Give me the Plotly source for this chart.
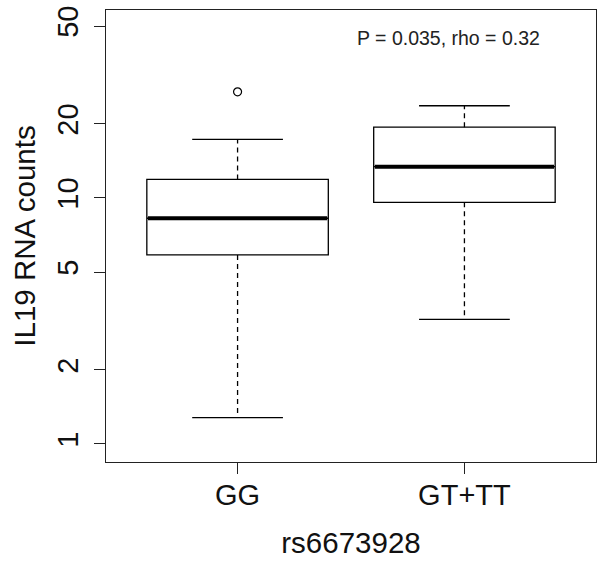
import plotly.graph_objects as go
import math

categories = ["GG", "GT+TT"]
cat_pos = [1, 2]
q1 = [5.87, 9.6]
median = [8.27, 13.4]
q3 = [11.9, 19.4]
lower_whisker = [1.28, 3.21]
upper_whisker = [17.3, 23.7]
outlier_cat_index = [0]
outlier_values = [27.0]
y_ticks = [1, 2, 5, 10, 20, 50]
annotation_text = "P = 0.035, rho = 0.32"

FONT = "Liberation Sans, Arial, sans-serif"
BOX_W = 0.8
CAP_W = 0.4

fig = go.Figure()

fig.add_trace(go.Box(
    x=cat_pos, q1=q1, median=median, q3=q3,
    lowerfence=q1, upperfence=q3,
    width=BOX_W, whiskerwidth=0,
    line=dict(color="black", width=1.3), fillcolor="white",
    boxpoints=False, showlegend=False, hoverinfo="skip",
))

sx, sy = [], []
for c, a, b, lo, hi in zip(cat_pos, q1, q3, lower_whisker, upper_whisker):
    sx += [c, c, None, c, c, None]
    sy += [b, hi, None, a, lo, None]
fig.add_trace(go.Scatter(x=sx, y=sy, mode="lines",
                         line=dict(color="black", width=1.3, dash="5px,4px"),
                         showlegend=False, hoverinfo="skip"))

cx, cy = [], []
for c, lo, hi in zip(cat_pos, lower_whisker, upper_whisker):
    cx += [c - CAP_W / 2, c + CAP_W / 2, None, c - CAP_W / 2, c + CAP_W / 2, None]
    cy += [hi, hi, None, lo, lo, None]
fig.add_trace(go.Scatter(x=cx, y=cy, mode="lines",
                         line=dict(color="black", width=1.3),
                         showlegend=False, hoverinfo="skip"))

mx, my = [], []
for c, m in zip(cat_pos, median):
    mx += [c - BOX_W / 2 + 0.005, c + BOX_W / 2 - 0.005, None]
    my += [m, m, None]
fig.add_trace(go.Scatter(x=mx, y=my, mode="lines",
                         line=dict(color="black", width=4),
                         showlegend=False, hoverinfo="skip"))

fig.add_trace(go.Scatter(x=[cat_pos[i] for i in outlier_cat_index], y=outlier_values,
                         mode="markers",
                         marker=dict(symbol="circle-open", size=8, color="black",
                                     line=dict(width=1.2)),
                         showlegend=False, hoverinfo="skip"))

fig.add_annotation(x=1.93, y=math.log10(44.6), xref="x", yref="y",
                   text=annotation_text, showarrow=False,
                   font=dict(family=FONT, size=19.5, color="#222"))

fig.update_layout(
    width=606, height=564,
    margin=dict(l=106, r=10, t=10, b=102, autoexpand=False),
    paper_bgcolor="white", plot_bgcolor="white",
    font=dict(family=FONT, color="#111"),
)
fig.update_xaxes(
    range=[0.42, 2.58], tickvals=cat_pos, ticktext=categories,
    showgrid=False, zeroline=False, automargin=False,
    showline=True, linecolor="#222", linewidth=1.3, mirror=True,
    ticks="outside", ticklen=11, tickwidth=1.3, tickcolor="#222",
    tickfont=dict(size=29), ticklabelstandoff=-4, ticklabeloverflow="allow",
    title=dict(text="rs6673928", font=dict(size=29.5), standoff=22),
)
fig.update_yaxes(
    type="log", range=[-0.0732, 1.764], tickvals=y_ticks,
    ticktext=[str(v) for v in y_ticks], tickangle=-90,
    showgrid=False, zeroline=False, automargin=False,
    showline=True, linecolor="#222", linewidth=1.3, mirror=True,
    ticks="outside", ticklen=11, tickwidth=1.3, tickcolor="#222",
    tickfont=dict(size=29), ticklabelstandoff=4, ticklabeloverflow="allow",
    title=dict(text="IL19 RNA counts", font=dict(size=29.5), standoff=7),
)

fig.write_html(
    "out.html",
    config={"displayModeBar": False},
    post_script="document.body.style.margin='0';document.body.style.padding='0';"
                "document.body.style.overflow='hidden';",
)
